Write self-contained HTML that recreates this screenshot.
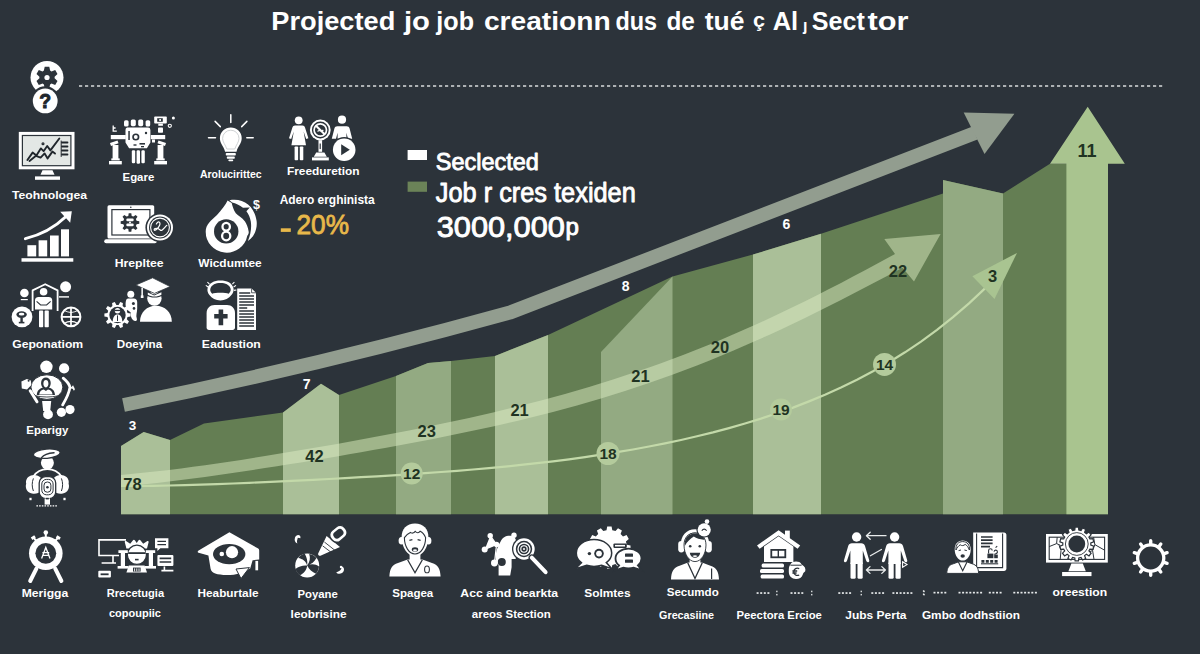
<!DOCTYPE html>
<html lang="en"><head><meta charset="utf-8"><title>Projected job creation</title>
<style>
html,body{margin:0;padding:0;background:#2c333a;overflow:hidden}
svg{display:block}
text{font-family:"Liberation Sans",Arial,sans-serif}
.w{fill:#fff}
.lbl{fill:#fff;font-weight:700;font-size:11.5px;text-anchor:middle}
.num{fill:#1f3322;font-weight:700;font-size:16.5px;text-anchor:middle}
.wn{fill:#fff;font-weight:700;font-size:14px;text-anchor:middle}
</style></head><body>
<svg width="1200" height="654" viewBox="0 0 1200 654">
<rect width="1200" height="654" fill="#2c333a"/>
<!--CHART-->
<g id="chart">
<!-- dark silhouette -->
<path fill="#647e53" d="M121,514.3 L121,446 L143.7,432 L170,440 L204,423.6 L283,412.4 L321,383.8 L339,395 L396,376 L428,363 L451,361 L495,356 L548,335 L672.5,276.6 L753,254.5 L821,233.7 L943,193.6 L943,180 L1003,193.6 L1050,163.7 L1108,163.7 L1108,514.3Z"/>
<!-- light bars -->
<path fill="#aabf98" d="M121,514.3 L121,446 L143.7,432 L170,440 L170,514.3Z"/>
<path fill="#aabf98" d="M283,514.3 L283,412.4 L321,383.8 L339,395 L339,514.3Z"/>
<path fill="#93aa82" d="M396,514.3 L396,376 L428,363 L451,361 L451,514.3Z"/>
<path fill="#aabf98" d="M495,514.3 L495,356 L548,335 L548,514.3Z"/>
<path fill="#93aa82" d="M601,514.3 L601,352 L672.5,276.6 L672.5,514.3Z"/>
<path fill="#aabf98" d="M753,514.3 L753,254.5 L821,233.7 L821,514.3Z"/>
<path fill="#93aa82" d="M943,514.3 L943,180 L1003,193.6 L1003,514.3Z"/>
<!-- up arrow -->
<path fill="#a9c48f" d="M1066.4,514.3 L1066.4,163.7 L1050,163.7 L1087.7,106.8 L1124.8,163.7 L1108,163.7 L1108,514.3Z"/>
<!-- arrow 2 band -->
<path fill="#dcecc2" fill-opacity=".5" d="M121.0,474.9 L133.0,473.8 L145.0,472.6 L157.0,471.3 L169.0,469.9 L181.0,468.4 L193.0,466.8 L205.0,465.2 L217.0,463.4 L229.0,461.7 L241.0,459.9 L253.0,458.0 L265.0,456.1 L277.0,454.1 L289.0,452.1 L301.0,450.1 L313.0,448.1 L325.0,446.0 L337.0,443.9 L349.0,441.7 L361.0,439.5 L373.0,437.3 L385.0,435.0 L397.0,432.7 L409.0,430.4 L421.0,428.0 L433.0,425.6 L445.0,423.0 L457.0,420.5 L469.0,417.9 L481.0,415.2 L493.0,412.4 L505.0,409.5 L517.0,406.6 L529.0,403.6 L541.0,400.5 L553.0,397.3 L565.0,393.9 L577.0,390.5 L589.0,387.0 L601.0,383.3 L613.0,379.5 L625.0,375.6 L637.0,371.6 L649.0,367.5 L661.0,363.2 L673.0,358.8 L685.0,354.2 L697.0,349.5 L709.0,344.7 L721.0,339.7 L733.0,334.6 L745.0,329.3 L757.0,324.0 L769.0,318.4 L781.0,312.8 L793.0,307.0 L805.0,301.2 L817.0,295.2 L829.0,289.1 L841.0,282.9 L853.0,276.6 L865.0,270.2 L877.0,263.8 L889.0,257.3 L895.0,254.1 L884.3,239 L940.6,233.9 L914,281.5 L902.5,267.8 L901.0,268.5 L889.0,274.9 L877.0,281.2 L865.0,287.5 L853.0,293.8 L841.0,299.9 L829.0,306.0 L817.0,312.0 L805.0,317.9 L793.0,323.7 L781.0,329.4 L769.0,334.9 L757.0,340.3 L745.0,345.6 L733.0,350.8 L721.0,355.8 L709.0,360.7 L697.0,365.4 L685.0,370.0 L673.0,374.5 L661.0,378.8 L649.0,383.0 L637.0,387.1 L625.0,391.0 L613.0,394.8 L601.0,398.4 L589.0,402.0 L577.0,405.4 L565.0,408.7 L553.0,411.9 L541.0,415.0 L529.0,418.0 L517.0,420.9 L505.0,423.7 L493.0,426.4 L481.0,429.0 L469.0,431.6 L457.0,434.1 L445.0,436.6 L433.0,438.9 L421.0,441.3 L409.0,443.5 L397.0,445.8 L385.0,448.0 L373.0,450.1 L361.0,452.2 L349.0,454.3 L337.0,456.4 L325.0,458.4 L313.0,460.4 L301.0,462.4 L289.0,464.3 L277.0,466.2 L265.0,468.1 L253.0,470.0 L241.0,471.8 L229.0,473.6 L217.0,475.3 L205.0,477.0 L193.0,478.6 L181.0,480.1 L169.0,481.6 L157.0,483.0 L145.0,484.3 L133.0,485.5 L121.0,486.5Z"/>
<!-- arrow 3 thin -->
<path fill="none" stroke="#c3d9a9" stroke-width="2.2" d="M121.0,485.8 L137.0,485.9 L153.0,485.8 L169.0,485.5 L185.0,485.1 L201.0,484.7 L217.0,484.1 L233.0,483.5 L249.0,482.8 L265.0,482.1 L281.0,481.4 L297.0,480.6 L313.0,479.8 L329.0,479.0 L345.0,478.1 L361.0,477.2 L377.0,476.3 L393.0,475.3 L409.0,474.3 L425.0,473.2 L441.0,472.0 L457.0,470.8 L473.0,469.5 L489.0,468.1 L505.0,466.6 L521.0,464.9 L537.0,463.2 L553.0,461.3 L569.0,459.3 L585.0,457.1 L601.0,454.7 L617.0,452.2 L633.0,449.5 L649.0,446.5 L665.0,443.4 L681.0,440.0 L697.0,436.3 L713.0,432.4 L729.0,428.1 L745.0,423.5 L761.0,418.6 L777.0,413.3 L793.0,407.6 L809.0,401.4 L825.0,394.8 L841.0,387.6 L857.0,379.8 L873.0,371.3 L889.0,362.2 L905.0,352.3 L921.0,341.6 L937.0,329.9 L953.0,317.2 L969.0,303.4 L985.0,288.4"/>
<path fill="#a9c491" d="M1017,252.9 L972.4,276.3 L994.5,298.9Z"/>
<!-- circles -->
<g fill="#b4cb9c"><circle cx="411.7" cy="473.5" r="11"/><circle cx="608" cy="453.5" r="11.5"/><circle cx="781" cy="409.5" r="11"/><circle cx="884.5" cy="364.4" r="11.5"/></g>
<!-- grey arrow -->
<path fill="none" stroke="#929d8f" stroke-width="14" d="M123.5,405 Q317,366 510,312.5 L975,133"/>
<path fill="#929d8f" d="M963.7,112.5 L1014.4,113.8 L984.5,154Z"/>
</g>
<!-- dotted line -->
<line x1="79" y1="86" x2="1164" y2="86" stroke="#d8dcdc" stroke-width="1.6" stroke-dasharray="3.2 2.8"/>
<!-- numbers -->
<g class="wn">
<text x="132.5" y="429.5" font-size="13.5">3</text>
<text x="306.7" y="389">7</text>
<text x="625.6" y="290.5">8</text>
<text x="786.3" y="229">6</text>
</g>
<g class="num">
<text x="132.5" y="490.3">78</text>
<text x="314.4" y="462">42</text>
<text x="426.8" y="436.5">23</text>
<text x="519.6" y="416.2">21</text>
<text x="640.4" y="382.4">21</text>
<text x="720" y="353">20</text>
<text x="897.9" y="277.3">22</text>
<text x="411.7" y="479.3" font-size="15.5">12</text>
<text x="608" y="459.3" font-size="15.5">18</text>
<text x="781" y="415.3" font-size="15.5">19</text>
<text x="884.5" y="370.2" font-size="15.5">14</text>
<text x="992.6" y="281.8">3</text>
<text x="1087" y="157.2" font-size="18">11</text>
</g>
<!-- title -->
<g class="w" font-weight="700" font-size="26.5">
<text x="271.3" y="29.8" textLength="124" lengthAdjust="spacingAndGlyphs">Projected</text>
<text x="404" y="29.8" textLength="26" lengthAdjust="spacingAndGlyphs">jo</text>
<text x="436.3" y="29.8" textLength="37.7" lengthAdjust="spacingAndGlyphs">job</text>
<text x="483.9" y="29.8" textLength="126.7" lengthAdjust="spacingAndGlyphs">creationn</text>
<text x="615.4" y="29.8" textLength="41.6" lengthAdjust="spacingAndGlyphs">dus</text>
<text x="666.4" y="29.8" textLength="28.4" lengthAdjust="spacingAndGlyphs">de</text>
<text x="704.7" y="29.8" textLength="39.7" lengthAdjust="spacingAndGlyphs">tué</text>
<text x="752.9" y="27" font-size="20" textLength="12" lengthAdjust="spacingAndGlyphs">ç</text>
<text x="772.7" y="29.8" textLength="25.5" lengthAdjust="spacingAndGlyphs">Al</text>
<text x="803" y="31" font-size="16">ȷ</text>
<text x="811.8" y="29.8" textLength="53" lengthAdjust="spacingAndGlyphs">Sect</text>
<text x="867.6" y="29.8" textLength="41" lengthAdjust="spacingAndGlyphs">tor</text>
</g>
<!-- legend -->
<rect x="407.6" y="150" width="19.4" height="10" fill="#fff"/>
<rect x="407.6" y="181.6" width="19.4" height="10.2" fill="#6b8358"/>
<g class="w">
<g stroke="#fff" stroke-width=".9" stroke-linejoin="round">
<text x="435.8" y="170" font-size="24" textLength="103" lengthAdjust="spacingAndGlyphs">Seclected</text>
<text x="435.8" y="202" font-size="28.5" textLength="200" lengthAdjust="spacingAndGlyphs">Job r cres texiden</text>
<text x="436.8" y="237.3" font-size="29" textLength="128" lengthAdjust="spacingAndGlyphs">3000,000</text>
<text x="565.4" y="234.600" font-size="23" textLength="13.400" lengthAdjust="spacingAndGlyphs">p</text>
</g>
</g>
<text x="279.7" y="204.3" class="w" font-weight="700" font-size="12.3" textLength="95" lengthAdjust="spacingAndGlyphs">Adero erghinista</text>
<rect x="280.8" y="228.3" width="10" height="3.6" fill="#e8b84a"/>
<text x="296.5" y="234.2" fill="#e8b84a" stroke="#e8b84a" stroke-width=".8" font-size="28" textLength="52.5" lengthAdjust="spacingAndGlyphs">20%</text>
<g id="i-gearq">
<circle cx="47" cy="77.5" r="16.5" fill="#fff"/>
<path d="M54.6,78.3 L57.5,80.9 L55.2,84.9 L51.5,83.6 L50.1,84.4 L49.3,88.3 L44.7,88.3 L43.9,84.4 L42.5,83.6 L38.8,84.9 L36.5,80.9 L39.4,78.3 L39.4,76.7 L36.5,74.1 L38.8,70.1 L42.5,71.4 L43.9,70.6 L44.7,66.7 L49.3,66.7 L50.1,70.6 L51.5,71.4 L55.2,70.1 L57.5,74.1 L54.6,76.7Z" fill="#2c333a"/><circle cx="47" cy="77.5" r="2.600" fill="#fff"/>
<circle cx="45.2" cy="100.9" r="14.6" fill="#2c333a"/><circle cx="45.2" cy="100.9" r="12.4" fill="#fff"/>
<text x="45.2" y="107.8" text-anchor="middle" font-weight="700" font-size="19.500" fill="#20262c" stroke="#20262c" stroke-width=".9">?</text>
</g>
<g id="i-monitor">
<rect x="18.8" y="131.9" width="55.7" height="37.4" fill="#fff"/>
<rect x="21.8" y="134.9" width="49.7" height="31.4" fill="#2c333a"/>
<rect x="23" y="136.1" width="47.3" height="29" fill="#e3e7e5"/>
<g fill="none" stroke="#20262c" stroke-width="1.900" stroke-linejoin="round" stroke-linecap="round">
<polyline points="27.4,160 32.6,152.600 36.400,155.600 40.800,148.400 43.600,151.200 47.200,146 50.400,150.400 59.300,138.500"/>
<polyline points="29.5,161 36,155.800 40.600,157.600 44.600,153.400 47.600,158.400 52.400,151.600 55,153.600"/>
<circle cx="43" cy="143.800" r=".6"/>
<path d="M62,142.5h5.5M62,146.5h5.5M62,150.5h5.5M62,154.5h5.5" stroke-width="1.8"/>
<path d="M61.2,141v15.5" stroke-width="1"/>
</g>
<path d="M42.500,170.200h10l2,4.600h-14z" fill="#fff"/>
<rect x="35" y="176.400" width="25" height="3.400" fill="#fff"/>
</g>
<text class="lbl" x="49.5" y="199.3" textLength="75" lengthAdjust="spacingAndGlyphs">Teohnologea</text>
<g id="i-robot" fill="#fff">
<rect x="124" y="120.2" width="4.6" height="6.4" rx="1.6"/><rect x="130.8" y="119.4" width="5" height="6.8" rx="1.6"/>
<rect x="138.2" y="119.4" width="5" height="6.8" rx="1.6"/><rect x="145.6" y="120.2" width="4.6" height="6.4" rx="1.6"/>
<path d="M127,127.5h21a2.4,2.4 0 0 1 2.4,2.4v12.5l-3.5,5.9h-17.8l-3.6,-5.9v-12.5a2.4,2.4 0 0 1 1.5,-2.4z"/>
<circle cx="135.8" cy="137" r="3.6" fill="#2c333a"/><circle cx="135.8" cy="137" r="1.9"/>
<rect x="128.3" y="131" width="1.5" height="9" fill="#2c333a"/>
<rect x="139.5" y="143" width="5.5" height="1.6" fill="#2c333a"/><rect x="141" y="146" width="3" height="1.3" fill="#2c333a"/>
<circle cx="146" cy="133" r="1.2" fill="#2c333a"/><rect x="133.5" y="144.3" width="3" height="1.4" fill="#2c333a"/>
<rect x="110.8" y="135" width="15" height="4.2"/><path d="M110,143l7.5,-2.6l1,2.8l-7.5,2.8z"/>
<rect x="112.6" y="145" width="5.8" height="14.5"/><rect x="109" y="161" width="12.8" height="3.4"/><rect x="111.3" y="158.4" width="8.4" height="2"/>
<rect x="150.8" y="135" width="14.4" height="4.2"/><path d="M166,143l-7.5,-2.6l-1,2.8l7.5,2.8z"/>
<rect x="157.6" y="145" width="5.8" height="14.5"/><rect x="154.2" y="161" width="12.8" height="3.4"/><rect x="156.3" y="158.4" width="8.4" height="2"/>
<path d="M152,139.5h3v3h-3z"/>
<rect x="131.8" y="150.2" width="3.4" height="13" rx="1.2"/><rect x="136.6" y="150.2" width="3.4" height="13.6" rx="1.2"/><rect x="141.4" y="150.2" width="3.4" height="13" rx="1.2"/>
<rect x="154.2" y="116.6" width="12.6" height="7" rx=".8"/><rect x="157.2" y="118.2" width="5.6" height="3.6" fill="#2c333a"/><rect x="159.3" y="119" width="1.6" height="2"/>
<rect x="158.3" y="123.6" width="4.6" height="2.2"/><rect x="158" y="127.5" width="5" height="5.2" rx=".8"/>
<circle cx="173.4" cy="118" r="1.5"/><circle cx="169.8" cy="125.8" r="1.6" fill="none" stroke="#fff" stroke-width="1.1"/>
<path d="M113.2,125.6v5.6h3.6M113.2,128h2.4" fill="none" stroke="#fff" stroke-width="1.3"/>
</g>
<text class="lbl" x="138.4" y="181" textLength="31.7" lengthAdjust="spacingAndGlyphs">Egare</text>
<g id="i-bulb">
<path d="M230.8,127.4a10.9,10.9 0 0 1 10.9,10.9c0,5 -3.6,7.6 -5.2,13.4h-11.4c-1.6,-5.8 -5.2,-8.4 -5.2,-13.4a10.9,10.9 0 0 1 10.9,-10.9z" fill="#fff"/>
<path d="M230.8,130.2a8.2,8.2 0 0 1 8.2,8.2c0,3.8 -2.8,6.2 -4.2,10.6h-8c-1.4,-4.4 -4.2,-6.8 -4.2,-10.6a8.2,8.2 0 0 1 8.2,-8.2z" fill="none" stroke="#c9cdcf" stroke-width=".9"/>
<rect x="225.8" y="153" width="10" height="2.6" rx=".8" fill="#fff"/><rect x="226.8" y="156.6" width="8" height="2.2" rx=".8" fill="#fff"/><rect x="228.4" y="159.4" width="4.8" height="1.8" rx=".8" fill="#fff"/>
<g stroke="#fff" stroke-width="1.5" stroke-linecap="round"><path d="M230.8,114.8v7.6M215.1,121.4l5.2,5.2M246.9,121.4l-5.2,5.2M208.5,137.8h7M246.8,137.8h6.4"/></g>
</g>
<text class="lbl" x="230.8" y="178.2" textLength="61.7" lengthAdjust="spacingAndGlyphs">Arolucirittec</text>
<g id="i-people" fill="#fff">
<circle cx="298.7" cy="120.3" r="3.9"/>
<path d="M295,125.6h7.4c1.4,0 2.2,.8 2.6,2l3.4,10.6l-2.2,.8l-2.6,-7.4l2.4,13.6h-14.6l2.4,-13.6l-2.6,7.4l-2.2,-.8l3.4,-10.6c.4,-1.2 1.2,-2 2.6,-2z"/>
<rect x="294.6" y="146.4" width="3.5" height="13.8" rx=".8"/><rect x="299.8" y="146.4" width="3.5" height="13.8" rx=".8"/>
<circle cx="320.3" cy="130" r="10.4"/><circle cx="320.3" cy="130" r="8.4" fill="#2c333a"/>
<circle cx="320.3" cy="130" r="6.200" fill="none" stroke="#fff" stroke-width="1.700"/>
<path d="M316,125.800l8.600,8.400" stroke="#fff" stroke-width="2"/><path d="M317.5,131.5c2,-2.6 4,1.4 5.8,-1.6" fill="none" stroke="#fff" stroke-width="1.1"/>
<rect x="318.5" y="140.2" width="3.6" height="11.6"/><path d="M316.2,152.4h8.2l2.4,4.4h-13z"/><rect x="312" y="157.4" width="16.8" height="3"/>
<rect x="319.6" y="143.5" width="1.2" height="5.6" fill="#2c333a"/>
<circle cx="342" cy="119.7" r="4.1"/>
<path d="M337.4,126.2h9.2c1.6,0 2.6,.8 3,2.2l2.6,10.4h-4.2l-1.6,-6v6h-8.8v-6l-1.6,6h-4.2l2.6,-10.4c.4,-1.4 1.4,-2.2 3,-2.2z"/>
<circle cx="344.2" cy="149.7" r="12.8" fill="#2c333a"/><circle cx="344.2" cy="149.7" r="11.3"/>

<path d="M341.2,144.2l8.6,5.5l-8.6,5.5z" fill="#2c333a"/>
</g>
<text class="lbl" x="323.3" y="174.7" textLength="72.7" lengthAdjust="spacingAndGlyphs">Freeduretion</text>
<g id="i-bars" fill="#fff">
<rect x="27.4" y="245.2" width="8.8" height="11.2"/><rect x="38.6" y="240.3" width="8.6" height="16.1"/><rect x="50" y="235.5" width="8.7" height="20.9"/><rect x="61" y="229.3" width="8" height="27.1"/>
<rect x="21.5" y="258.2" width="51.8" height="3.5"/>
<path d="M25.4,238.6c14,-3.4 28,-10 40,-21.6" fill="none" stroke="#fff" stroke-width="3" stroke-linecap="round"/>
<path d="M60.2,211.8l11.6,-.6l-1.6,11.6z"/>
</g>
<g id="i-laptop" fill="#fff">
<rect x="107.5" y="205.3" width="46.7" height="33.2" rx="1.5"/>
<rect x="111.3" y="209" width="39.2" height="26.6" fill="#2c333a"/><rect x="112.5" y="210.2" width="36.8" height="24.2"/>
<circle cx="130.8" cy="207.2" r=".8" fill="#2c333a"/>
<path d="M136.6,220.8 L139.3,221.2 L139.3,223.8 L136.6,224.2 L135.9,225.9 L137.5,228.2 L135.7,230.0 L133.4,228.4 L131.7,229.1 L131.3,231.8 L128.7,231.8 L128.3,229.1 L126.6,228.4 L124.3,230.0 L122.5,228.2 L124.1,225.9 L123.4,224.2 L120.7,223.8 L120.7,221.2 L123.4,220.8 L124.1,219.1 L122.5,216.8 L124.3,215.0 L126.6,216.6 L128.3,215.9 L128.7,213.2 L131.3,213.2 L131.7,215.9 L133.4,216.6 L135.7,215.0 L137.5,216.8 L135.9,219.1Z" fill="#2c333a"/>
<rect x="126.3" y="218.6" width="7.4" height="2.6" rx="1.2"/><rect x="126.3" y="223.6" width="7.4" height="2.6" rx="1.2"/><circle cx="130" cy="222.4" r="1"/>
<rect x="104.2" y="239.3" width="52.6" height="4" rx="2"/>
<circle cx="160" cy="227.5" r="14.6" fill="#2c333a"/><circle cx="160" cy="227.5" r="13"/><circle cx="160" cy="227.5" r="11" fill="#2c333a"/>
<circle cx="160" cy="227.5" r="9.4" fill="none" stroke="#fff" stroke-width="1.1"/>
<path d="M156.4,224c1.4,-3.4 4.6,-2.4 3.2,1.2c-1.2,3 -5,6.4 -5.4,4.6c-.4,-1.8 3.4,-2.4 6,.2c1.6,1.6 3.6,-1.6 6.6,-4.6" fill="none" stroke="#fff" stroke-width="1.2" stroke-linecap="round"/>
</g>
<text class="lbl" x="139.2" y="266.5" textLength="49" lengthAdjust="spacingAndGlyphs">Hrepltee</text>
<g id="i-bag" fill="#fff">
<path d="M227.600,200.500C225.500,205 221.500,210 217,215C211,220.500 205.700,224.500 205.700,231.700A21,21 0 0 0 247.300,235.800C248.400,234.400 248.900,233 248.700,231.700C248,227 246.500,224 245,221.600C242,217.500 238,215.500 235.800,213.300C233.500,210 232.500,206 231.700,203Z"/>
<path d="M229.400,200.300C243,197.600 254.600,206 256.600,221C257.600,229 254,237 247.900,241C250.500,235 251.800,228 250.800,221.500C250.200,217.600 248.600,214 246.400,211.200L249.800,207.400L243,207.800C239.800,205.200 235.600,203.200 232.200,202.400Z"/>
<circle cx="226.200" cy="231.400" r="12.200" fill="#2c333a"/>
<ellipse cx="226.200" cy="226.800" rx="3.700" ry="3.900" fill="none" stroke="#fff" stroke-width="2.300"/><ellipse cx="226.200" cy="236" rx="4.100" ry="4.300" fill="none" stroke="#fff" stroke-width="2.300"/>
<text x="256.600" y="208.600" text-anchor="middle" font-weight="700" font-size="12.500">$</text>
</g>
<text class="lbl" x="230" y="266.5" textLength="63.4" lengthAdjust="spacingAndGlyphs">Wicdumtee</text>
<g id="i-net" fill="#fff">
<circle cx="43.6" cy="291.7" r="3.8"/>
<path d="M38.4,297h10.4c1.6,0 3.4,1.2 3.4,3v9.6h-17.2v-9.6c0,-1.8 1.8,-3 3.4,-3z"/>
<rect x="39" y="310.6" width="4.2" height="16.6" rx=".8"/><rect x="44.6" y="310.6" width="4.2" height="16.6" rx=".8"/>
<path d="M32.6,311v-20.6l12.6,-6.2l12.4,6.2v20.6" fill="none" stroke="#fff" stroke-width="1.8" stroke-linejoin="round"/>
<path d="M36.6,301.4l4,3.6h6l4,-3.6" fill="none" stroke="#2c333a" stroke-width="1.1"/>
<circle cx="24.4" cy="293" r="4.3"/><rect x="20.8" y="299" width="7" height="1.2"/>
<circle cx="65.6" cy="286.8" r="5.5"/><rect x="59" y="296.2" width="10" height="1.4"/>
<circle cx="22" cy="316.9" r="10.4"/>
<ellipse cx="21.6" cy="314.6" rx="5.2" ry="3.4" fill="#2c333a"/><ellipse cx="21.6" cy="314.2" rx="2.8" ry="1.4"/><rect x="20.4" y="317.6" width="2.4" height="4.8" fill="#2c333a"/><rect x="18.8" y="321.8" width="5.6" height="1.6" fill="#2c333a"/>
<circle cx="71" cy="316.9" r="9.4" fill="none" stroke="#fff" stroke-width="2"/>
<path d="M61.6,316.9h18.8M71,307.5v18.8" stroke="#fff" stroke-width="1.7"/>
<path d="M64,310.4c4.4,2.6 9.6,2.6 14,0M64,323.4c4.4,-2.6 9.6,-2.6 14,0" fill="none" stroke="#fff" stroke-width="1.1"/>
</g>
<text class="lbl" x="47.7" y="348.3" textLength="71" lengthAdjust="spacingAndGlyphs">Geponatiom</text>
<g id="i-grad" fill="#fff">
<circle cx="154.4" cy="298.6" r="7.2"/>
<path d="M135.8,285l16.8,-7.2l17.6,8.8l-15.8,6.8z" stroke="#2c333a" stroke-width=".8"/>
<path d="M146.4,291.2l7.8,3.4l8.6,-3.8v4.4c-4,3.2 -12.4,3.2 -16.4,0z" fill="#2c333a"/>
<path d="M147.8,292.6l6.4,2.8l7.2,-3.2v2.6c-3.6,2.4 -10,2.4 -13.6,0z"/>
<rect x="141.4" y="287.6" width="1.5" height="8.6"/><rect x="140.8" y="295.4" width="2.7" height="2.6"/>
<path d="M140,321.8c0,-9.6 7,-16 15.8,-16c9,0 16,6.4 16,16z"/>
<circle cx="130.8" cy="294.2" r="3.5"/>
<path d="M128,298.6h5.8c2,0 3.4,1.6 3.4,3.4v6.6c0,4 -1.6,7 -.4,9.8c.8,2 -1.4,3.4 -3.2,2.2c-2.6,-1.8 -3,-5.4 -3,-8.4c-2,-1.2 -5,-3.200 -5,-7.400c0,-3.400 .6,-6.200 2.400,-6.200z"/>
<circle cx="133.400" cy="303.400" r="1.500" fill="#2c333a"/><circle cx="134" cy="308.400" r="1.300" fill="#2c333a"/>
<path d="M127.5,312.9 L130.6,313.6 L130.6,316.4 L127.5,317.1 L126.8,319.2 L129.0,321.5 L127.3,323.9 L124.4,322.5 L122.6,323.9 L122.9,327.0 L120.2,327.9 L118.6,325.1 L116.4,325.1 L114.8,327.9 L112.1,327.0 L112.4,323.9 L110.6,322.5 L107.7,323.9 L106.0,321.5 L108.2,319.2 L107.5,317.1 L104.4,316.4 L104.4,313.6 L107.5,312.9 L108.2,310.8 L106.0,308.5 L107.7,306.1 L110.6,307.5 L112.4,306.1 L112.1,303.0 L114.8,302.1 L116.4,304.9 L118.6,304.9 L120.2,302.1 L122.9,303.0 L122.6,306.1 L124.4,307.5 L127.3,306.1 L129.0,308.5 L126.8,310.8Z"/>
<circle cx="117.5" cy="315" r="8.2" fill="#2c333a"/>
<circle cx="117.5" cy="310.8" r="2.7"/><path d="M112.7,322c0,-4.800 2,-7.400 4.800,-7.400s4.800,2.600 4.800,7.400z"/>
<rect x="114.400" y="309.800" width="6.200" height="1.300" fill="#2c333a"/><path d="M117.500,315.400v5.600" stroke="#2c333a" stroke-width="1"/>
</g>
<text class="lbl" x="139.5" y="347.7" textLength="45.3" lengthAdjust="spacingAndGlyphs">Doeyina</text>
<g id="i-doc" fill="#fff">
<path d="M207.600,288.200c1.400,-5 6.400,-7.600 12.800,-7.600c6.600,0 11.600,2.400 13,7.400c.6,2.400 -.2,5 -2,7c-2.400,3.400 -6.600,5.400 -11,5.400c-4.600,0 -8.600,-2 -11,-5.400c-1.600,-2 -2.400,-4.400 -1.800,-6.800z"/>
<path d="M210.400,288.600c1.200,-3.800 5.200,-5.600 10,-5.600c5,0 9,1.800 10.200,5.600c.6,2 -.4,3.800 -2,5.200c-2.600,-1.400 -13.800,-1.400 -16.400,0c-1.600,-1.400 -2.400,-3.200 -1.800,-5.200z" fill="#2c333a"/>
<path d="M205.800,285.400l2.400,1.600M207.400,282l2,2.200M234.400,282l-2,2.200M236,285.400l-2.400,1.600M233.800,290.400l2.600,-.4" stroke="#fff" stroke-width="1.100"/>
<path d="M214.600,305h12.400c4.600,0 8,3.400 8,8v14.600c0,1.400 -1,2.400 -2.400,2.400h-23.600c-1.400,0 -2.400,-1 -2.400,-2.400v-14.600c0,-4.600 3.400,-8 8,-8z"/>
<path d="M218.600,309.600h4.600v4.400h4.400v4.600h-4.400v6.600h-4.600v-6.600h-4.400v-4.600h4.400z" fill="#2c333a"/>
<path d="M237.200,288.400h14.400l4.400,4.400v37.200h-18.800z"/>
<path d="M251.600,288.400v4.400h4.400" fill="none" stroke="#2c333a" stroke-width=".8"/>
<g stroke="#2c333a" stroke-width="1.500"><path d="M239.200,293h11M239.200,296h14.800M239.200,299h14.800M239.200,302h14.800M239.200,305h14.800M239.200,308h8M239.200,311h14.800M239.200,314h14.800M239.200,317h14.800M239.200,320h14.800M239.200,323h14.800M239.200,326h14.800"/></g>
</g>
<text class="lbl" x="231.3" y="347.7" textLength="59" lengthAdjust="spacingAndGlyphs">Eadustion</text>
<g id="i-epar" fill="#fff">
<circle cx="46.400" cy="366.800" r="6.200"/><circle cx="64.100" cy="368.400" r="5.100"/>
<path d="M42.100,401h9.100l-1,10h-7z"/>
<ellipse cx="46.900" cy="387.100" rx="16" ry="12.300" stroke="#2c333a" stroke-width="1"/>
<path d="M36.800,395c.4,-4.600 2.600,-6.400 6,-7.200c-1.400,-1.600 -2,-3.800 -1.600,-6c.4,-2.800 2.200,-4.400 4.700,-4.400s4.300,1.600 4.700,4.400c.4,2.200 -.2,4.400 -1.600,6c3.400,.8 5.600,2.600 6,7.200z" fill="#2c333a"/>
<path d="M43.400,383.200c.2,-2 1,-3.200 2.500,-3.200s2.300,1.200 2.500,3.200c.2,2 -.8,4.200 -2.500,4.200s-2.700,-2.200 -2.500,-4.200zM39.200,394.600c.4,-3 2,-4.400 4.600,-5l2.100,1.400l2.100,-1.400c2.600,.6 4.200,2 4.600,5z"/>
<path d="M35.400,395.800c7,1.600 16,1.600 23,0" fill="none" stroke="#2c333a" stroke-width=".9"/>
<circle cx="48" cy="414.400" r="4.900"/><circle cx="61.400" cy="412.300" r="4.600"/><circle cx="70" cy="409.600" r="4.600"/>
<path d="M21.400,381.600l5.400,-2.600l4,1.400l.6,4.600l-4.400,4.400l-5.200,-1z"/>
<path d="M30.200,390.800l6.800,11" stroke="#fff" stroke-width="3" stroke-linecap="round"/>
<path d="M63.200,378.200c3.200,2.600 5.800,5.400 6.800,8.900c-1,6.400 -4,12.200 -7.400,17.800" fill="none" stroke="#fff" stroke-width="2.800" stroke-linecap="round"/>
<path d="M70,387.600l4.600,.8M72.600,385.800l1.600,4.400" stroke="#fff" stroke-width="1.500"/>
<circle cx="28.600" cy="380.800" r="1" fill="#2c333a"/>
</g>
<text class="lbl" x="47.3" y="433.8" textLength="42" lengthAdjust="spacingAndGlyphs">Eparigy</text>
<g id="i-hat" fill="#fff">
<circle cx="47.400" cy="462.800" r="6.500"/>
<ellipse cx="46.800" cy="453.700" rx="13.400" ry="4.600" transform="rotate(-5 46.800 453.700)" stroke="#2c333a" stroke-width="1.200"/>
<path d="M41.600,457.600c2.600,-3.400 7.400,-4.400 12.400,-4.800" fill="none" stroke="#2c333a" stroke-width="1.500" stroke-linecap="round"/>
<path d="M33.400,476.600c3.400,-5.400 8.400,-7.400 14,-7.400c5.600,0 10.600,2 14,7.400" fill="none" stroke="#fff" stroke-width="1.800"/>
<path d="M43.600,469.800l1.200,-1.400M47.400,469.400v-1.600M51.200,469.800l-1.200,-1.400" stroke="#fff" stroke-width="1"/>
<path d="M32.600,475.200c-4.600,.4 -7.400,4.400 -6.400,8.600c-1.400,4.200 1,9 5.800,9.800c3.600,.8 7,-.4 9,-2.800v-12.800c-2,-2 -5,-3.200 -8.400,-2.800z"/>
<path d="M62.200,475.200c4.600,.4 7.400,4.400 6.400,8.600c1.400,4.200 -1,9 -5.800,9.800c-3.600,.8 -7,-.4 -9,-2.800v-12.800c2,-2 5,-3.200 8.400,-2.800z"/>
<path d="M33.400,478.400c-1.600,4 -1.600,8.600 0,12.600M61.400,478.400c1.600,4 1.600,8.600 0,12.600" fill="none" stroke="#2c333a" stroke-width="1"/>
<rect x="39.200" y="476.600" width="16.500" height="22" rx="6.400" stroke="#2c333a" stroke-width="1.300"/>
<rect x="41.800" y="479.400" width="11.300" height="15.400" rx="4.600" fill="none" stroke="#2c333a" stroke-width="1"/>
<rect x="44" y="482" width="6.900" height="10.200" rx="3.200" fill="none" stroke="#2c333a" stroke-width="1"/>
<circle cx="47.400" cy="487.200" r="1.300" fill="#2c333a"/>
<rect x="44.600" y="498.400" width="5.400" height="6.200"/>
<rect x="45.800" y="497.800" width="3" height="1.600" fill="#2c333a"/>
<rect x="29.400" y="497.800" width="2.200" height="2.400"/><rect x="63.400" y="497.800" width="2.200" height="2.400"/>
<path d="M36.400,505.800h21.600" stroke="#fff" stroke-width="1.300" stroke-dasharray="1.600 1.100"/>
</g>
<g id="b-mer" fill="#fff">
<path d="M36.4,568.6l-6.200,12.400M55.200,568.600l6.200,12.400" stroke="#fff" stroke-width="4" stroke-linecap="round"/>
<path d="M45.800,538v-4M36.600,541.400l-3.200,-4M55,541.400l3.200,-4" stroke="#fff" stroke-width="2"/>
<circle cx="45.800" cy="532.500" r="2.300"/><path d="M30.800,537.600l3.400,-2.400l1.600,2.400l-3.400,2.400zM60.800,537.600l-3.400,-2.400l-1.600,2.400l3.400,2.400z"/>
<circle cx="45.800" cy="553.300" r="16.800"/><circle cx="45.800" cy="553.300" r="10.400" fill="#2c333a"/>
<path d="M41.600,558.400l4.200,-11l4.200,11M43,555.400h5.600M42.400,552.600h6.800" fill="none" stroke="#fff" stroke-width="1.300"/>
</g>
<text class="lbl" x="45" y="597" textLength="46.6" lengthAdjust="spacingAndGlyphs">Merigga</text>
<g id="b-rre" fill="#fff">
<path d="M126,539.900h-27v15.600h20" fill="none" stroke="#fff" stroke-width="1.600"/>
<path d="M113,556v6.400M101.600,563h14.400" stroke="#fff" stroke-width="1.600"/>
<path d="M126.400,548.600l-1.600,-6.400c-.2,-1 .8,-1.600 1.600,-1l3.800,2.600l2.600,-3.400c.6,-.8 1.600,-.8 2.200,0l1.700,2.600l1.700,-2.600c.6,-.8 1.600,-.8 2.200,0l2.600,3.400l3.800,-2.600c.8,-.6 1.800,0 1.600,1l-1.600,6.400z"/>
<circle cx="136.900" cy="554.800" r="9.600" stroke="#2c333a" stroke-width="1.300"/>
<rect x="128.200" y="552.200" width="17.400" height="1.800" fill="#2c333a"/>
<path d="M135,559.600h3.600" fill="none" stroke="#2c333a" stroke-width="1.600"/>
<path d="M128.800,565.400h15.800l2.400,7.200h-20.600z"/>
<rect x="133" y="567.600" width="7.600" height="4" fill="#2c333a"/><path d="M134.600,568.400v3M136.800,568.400v3M139,568.400v3" stroke="#fff" stroke-width=".9"/>
<rect x="120.800" y="552.800" width="4.200" height="13.400"/><rect x="118.400" y="550.200" width="9.400" height="2.800"/><rect x="117.600" y="566" width="11" height="2.600"/>
<rect x="148.800" y="552.800" width="4.200" height="13.400"/><rect x="145.800" y="550.200" width="9.400" height="2.800"/><rect x="145" y="566" width="11" height="2.600"/>
<path d="M155,538.300h13.400v10h-8l-3,2.600v-2.600h-2.400z"/><path d="M157.400,541.400h8.600M157.400,544.600h8.600" stroke="#2c333a" stroke-width="1.300"/>
<rect x="157.400" y="555" width="16" height="11" rx="1"/><path d="M159.600,558.400h11.600M159.600,562h11.600" stroke="#2c333a" stroke-width="1.600"/>
<path d="M164.400,566.400v3.400M161.400,570.600h12" stroke="#fff" stroke-width="1.600"/>
<rect x="98.300" y="570.800" width="12.600" height="6.800" rx="1"/><rect x="100.600" y="573.400" width="8" height="1.800" fill="#2c333a"/>
</g>
<text class="lbl" x="135.4" y="597" textLength="57.5" lengthAdjust="spacingAndGlyphs">Rrecetugia</text>
<text class="lbl" x="135" y="617.2" textLength="52" lengthAdjust="spacingAndGlyphs">copoupiic</text>
<g id="b-hea" fill="#fff">
<path d="M229.400,532.200l28.800,16.400c.6,.4 1,1 1,1.800v9.200l-6.600,.600l-2.400,8.400l-10.400,4.600c-6,2.200 -18,2.600 -24.600,.4c-2.400,-.8 -4,-2.400 -4.600,-4.800l-2.200,-13.400l-9.800,-2.600c-1,-.3 -1.200,-1.400 -.4,-2z"/>
<ellipse cx="229.200" cy="554.100" rx="16.200" ry="10.200" fill="#2c333a"/>
<circle cx="232" cy="552.200" r="6.100"/><circle cx="221.800" cy="554" r="2.300"/>
<path d="M236,569l13.400,-1.400l-8.400,11z" stroke="#2c333a" stroke-width="1"/>
<rect x="255" y="560.400" width="3.600" height="10.400" stroke="#2c333a" stroke-width=".8"/>
</g>
<text class="lbl" x="228" y="597" textLength="61" lengthAdjust="spacingAndGlyphs">Heaburtale</text>
<g id="b-poy" fill="#fff">
<circle cx="307.200" cy="565.500" r="12"/>
<path d="M307.200,565.500c-1,-4 -4.600,-7 -9,-7.600c1.600,-2.200 4,-3.600 6.600,-4.200c2,3.400 3,7.400 2.400,11.800zM307.200,565.500c3.600,-2 8.400,-1.800 11.800,1c-.2,2.600 -1.200,5.200 -3,7.200c-3.800,-1.600 -7,-4.400 -8.800,-8.200zM307.200,565.500c-.4,4.200 -3.200,8 -7.200,9.800c-2.200,-1.600 -3.800,-3.800 -4.600,-6.400c3.200,-2.600 7.400,-3.800 11.800,-3.400zM307.200,565.500c2.600,-3.200 3.400,-7.400 2,-11.400c2.800,.4 5.400,1.800 7.200,4c-1.800,3.600 -5,6.400 -9.200,7.400z" fill="#2c333a"/>
<path d="M318.600,555.200c-.6,-.6 -.6,-1.400 -.2,-2.200l8.200,-17l13.400,11l-19,8.600c-.8,.4 -1.800,.2 -2.400,-.4z"/>
<path d="M322.600,545.800l9.400,7.200M324.400,542l10.600,8.400" stroke="#2c333a" stroke-width=".9"/>
<rect x="-8.800" y="-6.800" width="17.600" height="13.600" rx="5.800" transform="translate(338.400,533.800) rotate(-40)" fill="#fff" stroke="#2c333a" stroke-width="1.400"/>
<rect x="-5.400" y="-3.600" width="10.800" height="7.200" rx="3.400" transform="translate(338.400,533.800) rotate(-40)" fill="#2c333a"/>
<path d="M295,537.600c1,-3.400 6.200,-3.400 5.400,.6l-2.600,-.4c-.4,2 -1.400,3.600 -.4,5.800c-2.600,-1 -3.200,-3.400 -2.400,-6z"/>
<path d="M341.800,566.600c2.600,.6 3.200,4.600 .2,6.400c-2,1.200 -4.800,.8 -5.800,-.6l3,-1.400c1.600,-.6 2.400,-2.400 2.600,-4.400z"/>
<circle cx="341" cy="567" r="1.200"/><circle cx="299.200" cy="541" r="1" fill="#2c333a"/>
</g>
<text class="lbl" x="317.6" y="597.6" textLength="40.4" lengthAdjust="spacingAndGlyphs">Poyane</text>
<text class="lbl" x="318.6" y="618" textLength="56" lengthAdjust="spacingAndGlyphs">leobrisine</text>
<g id="b-spa" fill="#fff">
<rect x="409.600" y="552" width="10.800" height="10"/>
<ellipse cx="401.400" cy="540.800" rx="2.800" ry="3.800"/><ellipse cx="428.600" cy="540.800" rx="2.800" ry="3.800"/>
<path d="M415,523.600c8.400,0 13.400,5.600 13.400,13.600c0,10.400 -6.200,19 -13.400,19s-13.400,-8.600 -13.400,-19c0,-8 5,-13.600 13.400,-13.600z"/>
<path d="M404.400,537.600c0,8.800 4.600,16.400 10.600,16.400s10.600,-7.600 10.600,-16.400c-1.400,-3.400 -3.200,-5.400 -5.400,-6.400c-1.400,1.800 -3,2.200 -5,.2c-1.400,1.800 -3.400,2.200 -4.800,1c-2.400,1 -4.400,2.800 -6,5.200z" fill="none" stroke="#2c333a" stroke-width="1.100"/>
<path d="M409.400,540.400l3,-.8M420.600,540.400l-3,-.8" stroke="#2c333a" stroke-width="1.100"/>
<ellipse cx="415" cy="549.400" rx="3.200" ry="2.200" fill="#2c333a"/><ellipse cx="415" cy="550.200" rx="2" ry="1"/>
<path d="M389.400,576.600c.4,-8 2.600,-12 8.600,-13.600l9.600,-3.600h14.800l9.600,3.600c6,1.600 8.200,5.600 8.600,13.600z"/>
<path d="M407.600,559.800l7.400,13l7.400,-13" fill="none" stroke="#2c333a" stroke-width="1.300"/>
<ellipse cx="427" cy="569.400" rx="2.400" ry="3.400" fill="none" stroke="#2c333a" stroke-width="1.100"/>
</g>
<text class="lbl" x="412.8" y="597.4" textLength="41" lengthAdjust="spacingAndGlyphs">Spagea</text>
<g id="b-acc" fill="#fff">
<path d="M500.600,541.600c1.600,-3.800 5,-5.800 9,-5.800c4,0 6.400,2.400 6.800,6.400l.2,5.600l2,3.800l-2,1.200v3.600c0,1.600 -1,2.600 -2.600,2.600h-2.400v8.200l-1.400,8.400h-11.600v-10.600c-2.400,-2.600 -3.400,-6 -3,-9.400c.6,-5.200 2.600,-10 5,-14z"/>
<circle cx="501.800" cy="562" r="4" fill="#2c333a"/>
<g stroke="#fff" stroke-width="1.200"><path d="M490.200,535.700l6.400,8.700l-11.900,5.100M496.600,544.400l-2.200,18.600M514,535.200l-5,5"/></g>
<circle cx="490.200" cy="535.700" r="2.700"/><circle cx="514" cy="535.200" r="2.700"/><circle cx="484.700" cy="549.500" r="3"/><circle cx="496.600" cy="544.400" r="2.700"/><circle cx="494.400" cy="563" r="3.400"/>
<circle cx="524" cy="549" r="12" fill="#2c333a"/><circle cx="524" cy="549" r="10.700"/><circle cx="524" cy="549" r="8.200" fill="#2c333a"/>
<circle cx="524" cy="549" r="6" fill="none" stroke="#fff" stroke-width="1.300"/><circle cx="524" cy="549" r="3.200" fill="none" stroke="#fff" stroke-width="1.100"/><circle cx="524" cy="549" r="1"/>
<path d="M531.800,557.600l13.800,14.600" stroke="#2c333a" stroke-width="6.400" stroke-linecap="round"/>
<path d="M531.800,557.600l13.800,14.600" stroke="#fff" stroke-width="4" stroke-linecap="round"/>
</g>
<text class="lbl" x="509.2" y="597" textLength="97.7" lengthAdjust="spacingAndGlyphs">Acc aind bearkta</text>
<text class="lbl" x="511.3" y="617.8" textLength="79" lengthAdjust="spacingAndGlyphs">areos Stection</text>
<g id="b-sol" fill="#fff">
<path d="M606.5,530.2 L607.2,526.5 L611.6,526.5 L612.3,530.2 L615.5,531.1 L618.0,528.2 L621.9,530.4 L620.6,534.0 L623.0,536.4 L626.6,535.1 L628.8,539.0 L625.9,541.5 L626.8,544.7 L630.5,545.4 L630.5,549.8 L626.8,550.5 L625.9,553.7 L628.8,556.2 L626.6,560.1 L623.0,558.8 L620.6,561.2 L621.9,564.8 L618.0,567.0 L615.5,564.1 L612.3,565.0 L611.6,568.7 L607.2,568.7 L606.5,565.0 L603.3,564.1 L600.8,567.0 L596.9,564.8 L598.2,561.2 L595.8,558.8 L592.2,560.1 L590.0,556.2 L592.9,553.7 L592.0,550.5 L588.3,549.8 L588.3,545.4 L592.0,544.7 L592.9,541.5 L590.0,539.0 L592.2,535.1 L595.8,536.4 L598.2,534.0 L596.9,530.4 L600.8,528.2 L603.3,531.1Z"/>
<rect x="613.400" y="543.400" width="13.400" height="4.600" rx="1.200" fill="#2c333a"/><rect x="615" y="544.900" width="10" height="1.600"/>
<path d="M594,539.600c9.800,0 17.700,6 17.700,13.400c0,3.800 -2,7.200 -5.400,9.600l5.400,6l-10,-3.400c-2.400,.8 -5,1.200 -7.700,1.200c-2.600,0 -5.200,-.4 -7.400,-1.100l-11.600,3.600l6.400,-6.200c-3.200,-2.400 -5.100,-5.800 -5.100,-9.700c0,-7.400 7.900,-13.400 17.700,-13.400z" stroke="#2c333a" stroke-width="1.500"/>
<circle cx="599" cy="553.600" r="4.800" fill="#2c333a"/><circle cx="599" cy="553.600" r="2.900"/><circle cx="589.400" cy="553.600" r="1.700" fill="#2c333a"/>
<path d="M628.500,548.600c7.200,0 13,4.400 13,9.800c0,2.800 -1.400,5.200 -3.600,7l4,5l-8.200,-2.800c-1.600,.5 -3.400,.7 -5.200,.7c-1.800,0 -3.600,-.2 -5.200,-.7l-8.200,2.800l4,-5c-2.200,-1.800 -3.600,-4.200 -3.600,-7c0,-5.400 5.800,-9.800 13,-9.800z" stroke="#2c333a" stroke-width="1.800"/>
<rect x="625" y="553.400" width="8" height="3.400" rx=".6" fill="#2c333a"/><rect x="625" y="559.400" width="8" height="3.400" rx=".6" fill="#2c333a"/>
</g>
<text class="lbl" x="607.4" y="596.6" textLength="46.4" lengthAdjust="spacingAndGlyphs">Solmtes</text>
<g id="b-sec" fill="#fff">
<path d="M682.400,545c0,-8.600 5.200,-14.200 12.600,-14.200c7.400,0 12.600,5.600 12.600,14.200" fill="none" stroke="#fff" stroke-width="3.200"/>
<rect x="678.200" y="541" width="6.200" height="11.400" rx="3.100"/><rect x="705.600" y="541" width="6.200" height="11.400" rx="3.100"/>
<rect x="689.600" y="556" width="10.800" height="9"/>
<path d="M695,533c6.800,0 11,5 11,12c0,9 -5,16.600 -11,16.600s-11,-7.600 -11,-16.600c0,-7 4.200,-12 11,-12z" stroke="#2c333a" stroke-width=".9"/>
<path d="M684.800,546c-.8,-7.400 3.200,-12.600 10.200,-12.600c4.600,0 8,2.200 9.600,6.200c-3.800,.2 -8,-.8 -10.800,-3c-3.200,2.200 -7,5 -9,9.400z" fill="#2c333a"/>
<circle cx="690.200" cy="546.200" r="1.300" fill="#2c333a"/><circle cx="699.800" cy="546.200" r="1.300" fill="#2c333a"/>
<path d="M689.800,552.800h10.400c-.4,3.200 -2.600,5 -5.200,5s-4.800,-1.800 -5.200,-5z" fill="#2c333a"/><path d="M692.400,556c1.800,-1 3.400,-1 5.200,0c-1.200,1.200 -4,1.200 -5.200,0z"/>
<circle cx="704.200" cy="529.800" r="7.800" fill="#2c333a"/><circle cx="704.200" cy="529.800" r="6.600"/>
<path d="M701.800,530.800c1.400,-2.200 3.400,-2.200 4.800,0" fill="none" stroke="#2c333a" stroke-width="1.100"/>
<circle cx="707" cy="521.600" r="2.300"/>
<path d="M671,579.400c.4,-8 2.600,-12 8.600,-13.600l8.400,-3.200h14l8.400,3.200c6,1.600 8.200,5.600 8.600,13.600z"/>
<path d="M687.600,562.400l7.400,16l7.400,-16" fill="none" stroke="#2c333a" stroke-width="1.300"/>
<path d="M711.600,568.400v10.600" stroke="#2c333a" stroke-width="1.200"/>
</g>
<text class="lbl" x="692.7" y="595.6" textLength="52" lengthAdjust="spacingAndGlyphs">Secumdo</text>
<text class="lbl" x="686.6" y="618.6" textLength="55" lengthAdjust="spacingAndGlyphs">Grecasiine</text>
<g id="b-hou" fill="#fff">
<rect x="785" y="530.600" width="4.800" height="8"/>
<path d="M778.600,530.200l21.600,15.200l-2.600,3.400l-19,-13.400l-19,13.400l-2.600,-3.400z"/>
<path d="M764,546.400l14.600,-10.200l14.800,10.200v15.600h-29.400z"/>
<rect x="770.400" y="549" width="15.800" height="9.200" fill="#2c333a"/><rect x="772.200" y="550.800" width="5.400" height="5.600"/><rect x="779" y="550.800" width="5.400" height="5.600"/>
<rect x="761.600" y="563.600" width="22.400" height="3.900" rx="1.600"/><rect x="760" y="569.100" width="24" height="3.900" rx="1.600"/><rect x="760.600" y="574.600" width="23.400" height="3.900" rx="1.600"/>
<circle cx="796" cy="571.600" r="8.400" fill="#2c333a"/>
<path d="M790.400,564.400c1,-2.400 3.200,-3 5.600,-3s4.600,.6 5.600,3c3.200,1.600 4.400,4.400 3.600,6.800c-1,1.200 -1.800,1 -2.400,3.200c-.8,3 -3.600,4.600 -6.800,4.600c-4.200,0 -7.200,-3 -7.200,-7.200c0,-3.200 0,-5.800 1.600,-7.400z"/>
<path d="M790.400,565.200h11.200" stroke="#2c333a" stroke-width="1"/>
<path d="M799.200,568.600c-2.600,-1.200 -5.400,.2 -5.400,3.200c0,3 2.800,4.400 5.400,3.200M792.400,571h4.800M792.400,573h4.200" fill="none" stroke="#2c333a" stroke-width="1.300"/>
</g>
<g fill="#e6e9ea"><rect x="756.6" y="592.2" width="2" height="1.700"/><rect x="760.2" y="592.2" width="2" height="1.700"/><rect x="763.8" y="592.2" width="2" height="1.700"/><rect x="767.4" y="592.2" width="2" height="1.700"/><rect x="776.2" y="590.7" width="1.300" height="1.500"/><rect x="776.2" y="593.9" width="1.300" height="1.500"/><rect x="790.5" y="592.2" width="2" height="1.700"/><rect x="794.1" y="592.2" width="2" height="1.700"/><rect x="797.7" y="592.2" width="2" height="1.700"/><rect x="801.3" y="592.2" width="2" height="1.700"/><rect x="811.1" y="590.7" width="1.300" height="1.500"/><rect x="811.1" y="593.9" width="1.300" height="1.500"/></g>
<text class="lbl" x="779.2" y="618.6" textLength="85.3" lengthAdjust="spacingAndGlyphs">Peectora Ercioe</text>
<g id="b-two" fill="#fff">
<circle cx="856.6" cy="537" r="4.700"/>
<path d="M852.0,543.200h9.200c2,0 3.200,1 3.800,2.800l4.200,14.200c.3,1 -.2,1.800 -1,2c-.8,.2 -1.600,-.2 -1.900,-1.100l-3.500,-10.500v13.400h-12.400v-13.400l-3.500,10.500c-.3,.9 -1.100,1.300 -1.900,1.100c-.8,-.2 -1.300,-1 -1,-2l4.200,-14.200c.6,-1.800 1.800,-2.800 3.800,-2.800z"/>
<rect x="850.5" y="562" width="5.200" height="16.800" rx="1.400"/><rect x="857.5" y="562" width="5.200" height="16.800" rx="1.400"/>
<circle cx="894.6" cy="537" r="4.700"/>
<path d="M890.0,543.200h9.200c2,0 3.200,1 3.800,2.800l4.200,14.200c.3,1 -.2,1.800 -1,2c-.8,.2 -1.600,-.2 -1.900,-1.100l-3.500,-10.500v13.400h-12.400v-13.400l-3.500,10.500c-.3,.9 -1.100,1.300 -1.900,1.100c-.8,-.2 -1.300,-1 -1,-2l4.200,-14.200c.6,-1.800 1.800,-2.800 3.800,-2.800z"/>
<rect x="888.5" y="562" width="5.200" height="16.800" rx="1.400"/><rect x="895.5" y="562" width="5.200" height="16.800" rx="1.400"/>

<g fill="none" stroke="#e9ecec" stroke-width="1.300" stroke-linecap="round" stroke-linejoin="round">
<path d="M886,535.700h-19.600M870.200,532.200l-3.800,3.500l3.800,3.500"/>
<path d="M870.400,555.700l11,-6.200"/>
<path d="M866.400,570h19M870,566.600l-3.600,3.400l3.600,3.400M881.800,566.600l3.600,3.400l-3.600,3.400"/>
</g>
<path d="M902.600,561.800l4.400,2.800l-4.400,2.600z" fill="none" stroke="#fff" stroke-width="1.100"/>
</g>
<g fill="#e6e9ea"><rect x="838.3" y="592.2" width="2" height="1.700"/><rect x="841.9" y="592.2" width="2" height="1.700"/><rect x="845.5" y="592.2" width="2" height="1.700"/><rect x="849.1" y="592.2" width="2" height="1.700"/><rect x="860.6" y="590.7" width="1.300" height="1.500"/><rect x="860.6" y="593.9" width="1.300" height="1.500"/><rect x="871.3" y="592.2" width="2" height="1.700"/><rect x="874.9" y="592.2" width="2" height="1.700"/><rect x="878.5" y="592.2" width="2" height="1.700"/><rect x="882.1" y="592.2" width="2" height="1.700"/><rect x="892.4" y="592.2" width="2" height="1.700"/><rect x="896.0" y="592.2" width="2" height="1.700"/><rect x="899.6" y="592.2" width="2" height="1.700"/><rect x="903.2" y="592.2" width="2" height="1.700"/><rect x="906.8" y="592.2" width="2" height="1.700"/><rect x="910.4" y="592.2" width="2" height="1.700"/><rect x="923.4" y="590.7" width="1.300" height="1.500"/><rect x="923.4" y="593.9" width="1.300" height="1.500"/></g>
<text class="lbl" x="875.9" y="618.6" textLength="61.3" lengthAdjust="spacingAndGlyphs">Jubs Perta</text>
<g id="b-gmb" fill="#fff">
<path d="M973.200,532.500h30.800c1.400,0 2.400,1 2.400,2.400v33.700c0,1.400 -1,2.400 -2.400,2.400h-30.800z"/>
<path d="M976.600,533.400v34.200h26v-34.200" fill="none" stroke="#2c333a" stroke-width="1.100"/>
<g stroke="#2c333a" stroke-width="1.700"><path d="M981,537h11.600M981,540.200h11.600M981,543.400h11.600M981,546.600h9"/></g>
<path d="M988.600,553.600v-3c0,-2.400 3.600,-2.400 3.600,0M994,551.600c.6,-2 3.400,-2 3.400,.4c0,1.600 -1.600,2 -3,2.400M995.600,547.600l1.600,-1.400" fill="none" stroke="#2c333a" stroke-width="1.100"/>
<rect x="987.400" y="553.600" width="6" height="4.600" fill="#2c333a"/><rect x="994.200" y="554.600" width="3.600" height="3.600" fill="#2c333a"/>
<path d="M981.400,561.400h3M985.800,561.400h3M990.200,561.400h3M994.600,561.400h3" stroke="#2c333a" stroke-width="2.800"/>
<path d="M981,563.800h17.200" stroke="#2c333a" stroke-width="1.100"/>
<circle cx="962.700" cy="549.600" r="9.600" fill="#2c333a"/>
<path d="M962.700,540.400c5,0 8,3.800 8,9c0,6 -3.600,11.200 -8,11.200s-8,-5.200 -8,-11.200c0,-5.200 3,-9 8,-9z"/>
<path d="M956,550c-.6,-5 2.200,-8.400 6.700,-8.400s7.300,3.400 6.700,8.400c-1.200,-3 -2.600,-4.800 -4.200,-5.600c-1.600,1.400 -3.400,1.600 -5,.4c-1.800,1 -3.200,2.800 -4.200,5.200z" fill="none" stroke="#2c333a" stroke-width="1"/>
<ellipse cx="962.700" cy="556" rx="2.200" ry="1.800" fill="#2c333a"/>
<path d="M958.600,550.600l2.400,-.6M966.800,550.600l-2.400,-.6" stroke="#2c333a" stroke-width="1"/>
<path d="M946.800,573.400c.2,-5.600 2,-8.400 6.400,-9.600l5.400,-2h8.200l5.400,2c4.400,1.200 6.200,4 6.400,9.600z" stroke="#2c333a" stroke-width="1"/>
<path d="M958.400,562l4.300,8.800l4.300,-8.800" fill="none" stroke="#2c333a" stroke-width="1.100"/>
</g>
<g fill="#e6e9ea"><rect x="922.9" y="590.3" width="1.300" height="1.500"/><rect x="922.9" y="593.5" width="1.300" height="1.500"/><rect x="933.5" y="591.8" width="2" height="1.700"/><rect x="937.1" y="591.8" width="2" height="1.700"/><rect x="940.7" y="591.8" width="2" height="1.700"/><rect x="944.3" y="591.8" width="2" height="1.700"/><rect x="958.5" y="591.8" width="2" height="1.700"/><rect x="962.1" y="591.8" width="2" height="1.700"/><rect x="965.7" y="591.8" width="2" height="1.700"/><rect x="969.3" y="591.8" width="2" height="1.700"/><rect x="972.9" y="591.8" width="2" height="1.700"/><rect x="976.5" y="591.8" width="2" height="1.700"/><rect x="980.1" y="591.8" width="2" height="1.700"/><rect x="988.8" y="591.8" width="2" height="1.700"/><rect x="992.4" y="591.8" width="2" height="1.700"/><rect x="996.0" y="591.8" width="2" height="1.700"/><rect x="999.6" y="591.8" width="2" height="1.700"/><rect x="1013.3" y="591.8" width="2" height="1.700"/><rect x="1016.9" y="591.8" width="2" height="1.700"/><rect x="1020.5" y="591.8" width="2" height="1.700"/><rect x="1024.1" y="591.8" width="2" height="1.700"/><rect x="1027.7" y="591.8" width="2" height="1.700"/><rect x="1031.3" y="591.8" width="2" height="1.700"/><rect x="1034.9" y="591.8" width="2" height="1.700"/></g>
<text class="lbl" x="970.9" y="618.8" textLength="98" lengthAdjust="spacingAndGlyphs">Gmbo dodhstiion</text>
<g id="b-ore" fill="#fff">
<rect x="1046" y="534" width="61.800" height="28.600"/>
<rect x="1049.200" y="537.200" width="55.400" height="22.200" fill="none" stroke="#2c333a" stroke-width="1.100"/>
<g fill="none" stroke="#2c333a" stroke-width="1"><path d="M1049.200,546.600l7.400,-3l3.600,1.600M1056.600,543.600l.6,-6.400M1060.200,559.400l.8,-9l-2,-5.200M1094,559.400l-1.400,-8.800l2.200,-6l9.800,5.600M1094.800,544.600l-1.200,-7.400M1092.600,550.600l-3.400,1.200"/></g>
<path d="M1074.8,530.1 L1075.1,527.1 L1078.5,527.1 L1078.8,530.1 L1081.0,530.6 L1082.6,528.0 L1085.7,529.5 L1084.6,532.4 L1086.4,533.8 L1089.0,532.1 L1091.1,534.8 L1088.9,537.0 L1089.9,538.9 L1092.9,538.6 L1093.7,541.9 L1090.8,542.9 L1090.8,545.1 L1093.7,546.1 L1092.9,549.4 L1089.9,549.1 L1088.9,551.0 L1091.1,553.2 L1089.0,555.9 L1086.4,554.2 L1084.6,555.6 L1085.7,558.5 L1082.6,560.0 L1081.0,557.4 L1078.8,557.9 L1078.5,560.9 L1075.1,560.9 L1074.8,557.9 L1072.6,557.4 L1071.0,560.0 L1067.9,558.5 L1069.0,555.6 L1067.2,554.2 L1064.6,555.9 L1062.5,553.2 L1064.7,551.0 L1063.7,549.1 L1060.7,549.4 L1059.9,546.1 L1062.8,545.1 L1062.8,542.9 L1059.9,541.9 L1060.7,538.6 L1063.7,538.9 L1064.7,537.0 L1062.5,534.8 L1064.6,532.1 L1067.2,533.8 L1069.0,532.4 L1067.9,529.5 L1071.0,528.0 L1072.6,530.6Z" stroke="#2c333a" stroke-width="1.200"/>
<circle cx="1076.800" cy="544" r="11.400" fill="none" stroke="#2c333a" stroke-width=".9"/>
<circle cx="1076.800" cy="544" r="8.400" fill="#2c333a"/>
<path d="M1071.400,563.600h11.400l3,7.600h-17.400z"/><rect x="1062.100" y="572" width="29.400" height="4.100"/>
</g>
<text class="lbl" x="1079.8" y="596" textLength="54.6" lengthAdjust="spacingAndGlyphs">oreestion</text>
<g id="b-gear" fill="none" stroke="#fff"><circle cx="1150.7" cy="558" r="13.100" stroke-width="3.300"/><path d="M1150.7,543.8L1150.7,540.8M1142.4,546.5L1140.6,544.1M1137.2,553.6L1134.3,552.7M1137.2,562.4L1134.3,563.3M1142.4,569.5L1140.6,571.9M1150.7,572.2L1150.7,575.2M1159.0,569.5L1160.8,571.9M1164.2,562.4L1167.1,563.3M1164.2,553.6L1167.1,552.7M1159.0,546.5L1160.8,544.1" stroke-width="3.400" stroke-linecap="round"/></g>

</svg>
</body></html>
